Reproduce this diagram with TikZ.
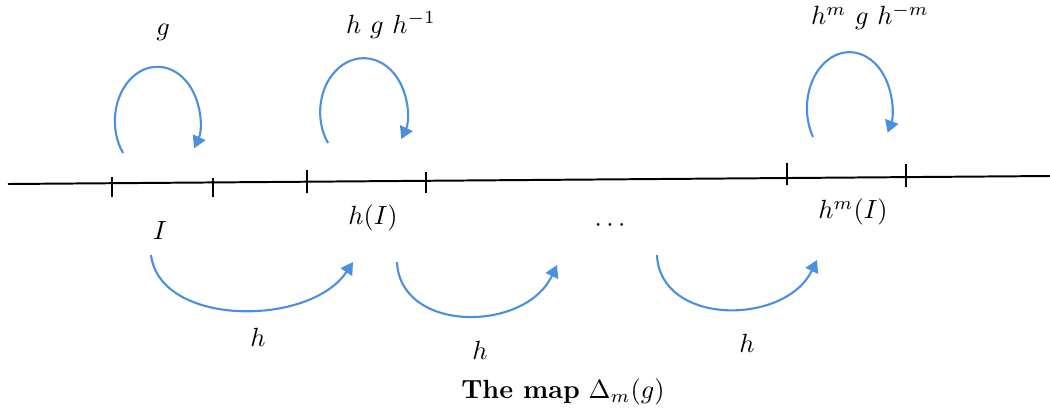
\documentclass[tikz,border=0pt]{standalone}
\usetikzlibrary{arrows.meta}
\definecolor{arcblue}{RGB}{74,144,226}
\begin{document}
\begin{tikzpicture}[x=0.38pt,y=0.38pt,
  axis/.style={line width=0.75pt},
  tickmark/.style={line width=0.75pt},
  maparrow/.style={arcblue, line width=0.8pt, -{Triangle[length=4.6pt,width=5.2pt]}},
  lbl/.style={inner sep=0pt}]
\useasboundingbox (0,0) rectangle (1050,413);
% main line
\coordinate (L) at (8,229);
\coordinate (R) at (1050,237);
\draw[axis] (L) -- (R);
% ticks
\draw[tickmark] (112,236) -- (112,216);
\draw[tickmark] (213,235) -- (213,216);
\draw[tickmark] (307,243) -- (307,220);
\draw[tickmark] (426,241) -- (426,220);
\draw[tickmark] (787,250) -- (787,228);
\draw[tickmark] (906,249) -- (906,226);
% loop arrows
\coordinate (s1) at (123,260);
\coordinate (s2) at (328,270);
\coordinate (s3) at (813,276);
\draw[maparrow] (s1) arc[start angle=216, end angle=-30, x radius=42.5, y radius=54.3];
\draw[maparrow] (s2) arc[start angle=215, end angle=-30, x radius=43.5, y radius=53.9];
\draw[maparrow] (s3) arc[start angle=211, end angle=-26, x radius=42.5, y radius=56];
% loop labels
\node[lbl] (g0) at (163,381) {$g$};
\node[lbl] (g1) at (391,388) {$h~g~h^{-1}$};
\node[lbl] (g2) at (870,396) {$h^{m}~g~h^{-m}$};
% interval labels
\node[lbl] (I0) at (160,183) {$I$};
\node[lbl] (I1) at (373,195) {$h(I)$};
\node[lbl] (dd) at (610,187) {$\cdots$};
\node[lbl] (Im) at (853,201) {$h^{m}(I)$};
% lower arcs
\coordinate (a1s) at (151,158);
\coordinate (a1e) at (353,151);
\coordinate (a2s) at (397,151);
\coordinate (a2e) at (557,148);
\coordinate (a3s) at (657,158);
\coordinate (a3e) at (817,153);
\draw[maparrow] (a1s) .. controls (160,86) and (310,86) .. (a1e);
\draw[maparrow] (a2s) .. controls (400,80) and (525,80) .. (a2e);
\draw[maparrow] (a3s) .. controls (660,87) and (785,87) .. (a3e);
% h labels
\node[lbl] (h1) at (258,76) {$h$};
\node[lbl] (h2) at (480,63) {$h$};
\node[lbl] (h3) at (747,70) {$h$};
% title
\node[lbl] (title) at (563,21) {\textbf{The map} $\Delta_m(g)$};
\end{tikzpicture}
\end{document}
